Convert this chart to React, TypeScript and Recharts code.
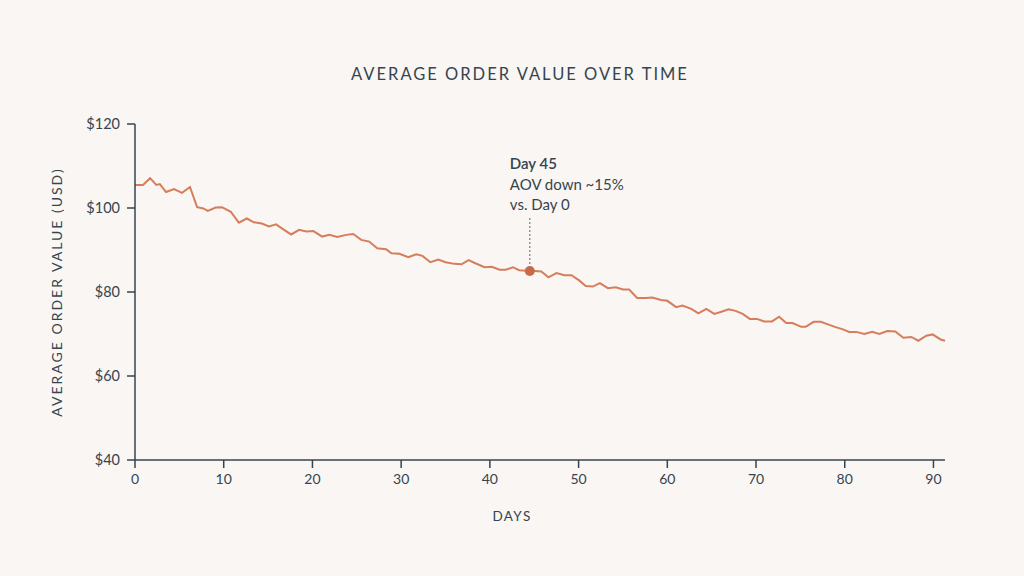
import { Line, LineChart, ReferenceDot, XAxis, YAxis } from 'recharts';

// sample positions (days) and values
const days = [
  0, 0.9, 1.7, 2.4, 2.8, 3.5, 4.4, 5.3, 6.2, 7.0, 7.7, 8.2, 9.1, 9.8, 10.8, 11.7, 12.6, 13.4, 14.3, 15.1,
  15.9, 16.8, 17.6, 18.5, 19.3, 20.1, 21.1, 21.9, 22.8, 23.8, 24.6, 25.5, 26.4, 27.3, 28.3, 28.9, 29.8,
  30.8, 31.7, 32.4, 33.3, 34.2, 35.0, 36.0, 36.8, 37.6, 38.3, 39.4, 40.2, 41.1, 41.8, 42.6, 43.3, 44.5,
  45.1, 45.8, 46.6, 47.5, 48.4, 49.2, 50.1, 50.8, 51.6, 52.4, 53.3, 54.2, 55.0, 55.7, 56.6, 57.6, 58.3,
  59.3, 60.0, 61.0, 61.7, 62.7, 63.5, 64.4, 65.3, 66.1, 66.9, 67.7, 68.5, 69.3, 70.1, 70.9, 71.8, 72.6,
  73.4, 74.1, 75.1, 75.6, 76.5, 77.3, 78.1, 78.9, 79.8, 80.5, 81.3, 82.2, 83.1, 83.9, 84.8, 85.7, 86.6,
  87.5, 88.3, 89.2, 89.9, 90.8, 91.3,
];
const aov = [
  105.5, 105.5, 107.1, 105.5, 105.7, 103.8, 104.5, 103.6, 105.0, 100.2, 99.9, 99.3, 100.1, 100.2, 99.1,
  96.5, 97.5, 96.6, 96.3, 95.6, 96.1, 94.8, 93.7, 94.8, 94.4, 94.5, 93.2, 93.6, 93.1, 93.6, 93.8, 92.4,
  92.0, 90.4, 90.2, 89.2, 89.1, 88.3, 89.0, 88.6, 87.1, 87.7, 87.1, 86.7, 86.6, 87.6, 86.9, 85.9, 86.0,
  85.3, 85.3, 85.9, 85.2, 85.0, 85.0, 84.9, 83.5, 84.5, 84.0, 84.0, 82.7, 81.4, 81.3, 82.1, 80.9, 81.1,
  80.6, 80.6, 78.6, 78.6, 78.7, 78.1, 77.9, 76.4, 76.8, 76.0, 74.9, 76.0, 74.8, 75.3, 75.9, 75.5, 74.8,
  73.6, 73.6, 73.0, 73.0, 74.1, 72.6, 72.6, 71.7, 71.7, 72.9, 72.9, 72.3, 71.7, 71.1, 70.5, 70.5, 70.0,
  70.5, 70.0, 70.7, 70.6, 69.1, 69.3, 68.4, 69.6, 69.9, 68.7, 68.4,
];
const xTicks = [0, 10, 20, 30, 40, 50, 60, 70, 80, 90];
const yTicks = [40, 60, 80, 100, 120];
const note = { day: 44.5, value: 85.0, lines: ['Day 45', 'AOV down ~15%', 'vs. Day 0'] };

const data = days.map((d, i) => ({ day: d, aov: aov[i] }));

const INK = '#34454f';
const LINE = '#d67d5c';
const FONT = 'Lato, "Open Sans", sans-serif';

function NoteLabel(props: any) {
  const vb = props.viewBox || {};
  const cx = vb.x + vb.width / 2;
  const cy = vb.y + vb.height / 2;
  return (
    <g>
      <line x1={cx} x2={cx} y1={cy - 53} y2={cy - 6} stroke="#5a6670" strokeWidth={1} strokeDasharray="2 2" />
      {note.lines.map((t, i) => (
        <text
          key={t}
          x={cx - 20}
          y={cy - 102 + i * 20.5}
          fill={INK}
          fontSize={15}
          fontWeight={i === 0 ? 600 : 400}
          fontFamily={FONT}
        >
          {t}
        </text>
      ))}
    </g>
  );
}

export default function App() {
  return (
    <div
      style={{
        position: 'absolute',
        left: 0,
        top: 0,
        width: 1024,
        height: 576,
        background: '#faf6f3',
        fontFamily: FONT,
      }}
    >
      <div
        style={{
          position: 'absolute',
          top: 64,
          left: 8,
          width: 1024,
          textAlign: 'center',
          fontSize: 16.5,
          letterSpacing: 2,
          color: INK,
        }}
      >
        AVERAGE ORDER VALUE OVER TIME
      </div>
      <LineChart width={1024} height={576} data={data} margin={{ top: 124, right: 79, bottom: 86, left: 52 }}>
        <XAxis
          dataKey="day"
          type="number"
          domain={[0, 'dataMax']}
          ticks={xTicks}
          tickSize={8}
          tickMargin={6}
          stroke={INK}
          strokeWidth={1.5}
          tick={{ fill: INK, fontSize: 14, fontFamily: FONT }}
          label={{ value: 'DAYS', position: 'bottom', offset: 21, dx: -28, fill: INK, fontSize: 13.5, letterSpacing: 1.4 }}
        />
        <YAxis
          dataKey="aov"
          type="number"
          domain={[40, 120]}
          ticks={yTicks}
          width={83}
          tickSize={8}
          tickMargin={7}
          stroke={INK}
          strokeWidth={1.5}
          tickFormatter={(v: number) => `$${v}`}
          tick={{ fill: INK, fontSize: 14.5, fontFamily: FONT }}
          label={{
            value: 'AVERAGE ORDER VALUE (USD)',
            angle: -90,
            position: 'insideLeft',
            offset: 5,
            fill: INK,
            fontSize: 14,
            letterSpacing: 2,
            style: { textAnchor: 'middle' },
          }}
        />
        <Line
          type="linear"
          dataKey="aov"
          stroke={LINE}
          strokeWidth={2}
          dot={false}
          isAnimationActive={false}
        />
        <ReferenceDot x={note.day} y={note.value} r={5} fill="#c8694a" stroke="none" label={<NoteLabel />} />
      </LineChart>
    </div>
  );
}
